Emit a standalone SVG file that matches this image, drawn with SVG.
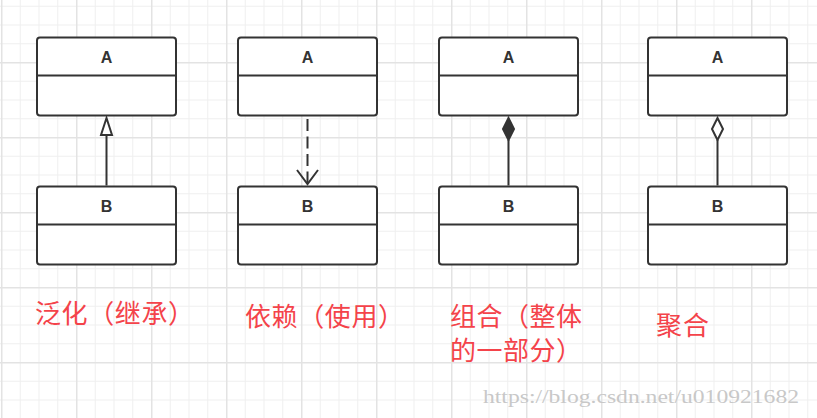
<svg xmlns="http://www.w3.org/2000/svg" width="817" height="418" viewBox="0 0 817 418">
  <defs>
    <pattern id="minor" patternUnits="userSpaceOnUse" x="1" y="5.75" width="18.75" height="18.75">
      <path d="M0.5 0 V18.75 M0 0.5 H18.75" stroke="#efefef" stroke-width="1" fill="none"/>
    </pattern>
    <pattern id="major" patternUnits="userSpaceOnUse" x="1" y="-13" width="75" height="75">
      <path d="M0.75 0 V75 M0 0.75 H75" stroke="#e3e3e3" stroke-width="1.5" fill="none"/>
    </pattern>
    <style>
      .box { fill: #ffffff; stroke: #333333; stroke-width: 2; }
      .div { stroke: #333333; stroke-width: 2; }
      .name { font-family: "Liberation Sans", Arial, sans-serif; font-weight: bold; font-size: 16px; fill: #333333; text-anchor: middle; }
      .conn { stroke: #333333; stroke-width: 2; fill: none; }
      .label { font-family: "Noto Sans CJK SC", sans-serif; font-size: 26px; fill: #f4434a; }
      .wm { font-family: "Liberation Serif", serif; font-size: 18px; fill: #c8c8c8; }
    </style>
  </defs>

  <rect width="817" height="418" fill="#ffffff"/>
  <rect width="817" height="418" fill="url(#minor)"/>
  <rect width="817" height="418" fill="url(#major)"/>

  <!-- Nodes -->
  <g id="gen-A">
    <rect class="box" x="37" y="37.5" width="139" height="78" rx="3"/>
    <line class="div" x1="37" y1="75.5" x2="176" y2="75.5"/>
    <text class="name" x="106.5" y="62.5">A</text>
  </g>
  <g id="gen-B">
    <rect class="box" x="37" y="186.5" width="139" height="78" rx="3"/>
    <line class="div" x1="37" y1="224.5" x2="176" y2="224.5"/>
    <text class="name" x="106.5" y="211.5">B</text>
  </g>

  <g id="dep-A">
    <rect class="box" x="238" y="37.5" width="139" height="78" rx="3"/>
    <line class="div" x1="238" y1="75.5" x2="377" y2="75.5"/>
    <text class="name" x="307.5" y="62.5">A</text>
  </g>
  <g id="dep-B">
    <rect class="box" x="238" y="186.5" width="139" height="78" rx="3"/>
    <line class="div" x1="238" y1="224.5" x2="377" y2="224.5"/>
    <text class="name" x="307.5" y="211.5">B</text>
  </g>

  <g id="comp-A">
    <rect class="box" x="439" y="37.5" width="139" height="78" rx="3"/>
    <line class="div" x1="439" y1="75.5" x2="578" y2="75.5"/>
    <text class="name" x="508.5" y="62.5">A</text>
  </g>
  <g id="comp-B">
    <rect class="box" x="439" y="186.5" width="139" height="78" rx="3"/>
    <line class="div" x1="439" y1="224.5" x2="578" y2="224.5"/>
    <text class="name" x="508.5" y="211.5">B</text>
  </g>

  <g id="agg-A">
    <rect class="box" x="648" y="37.5" width="139" height="78" rx="3"/>
    <line class="div" x1="648" y1="75.5" x2="787" y2="75.5"/>
    <text class="name" x="717.5" y="62.5">A</text>
  </g>
  <g id="agg-B">
    <rect class="box" x="648" y="186.5" width="139" height="78" rx="3"/>
    <line class="div" x1="648" y1="224.5" x2="787" y2="224.5"/>
    <text class="name" x="717.5" y="211.5">B</text>
  </g>

  <!-- Connectors -->
  <g id="connectors">
    <line class="conn" x1="106.5" y1="185.5" x2="106.5" y2="135"/>
    <polygon class="conn" points="106.5,118 101,135 112,135" fill="#ffffff"/>

    <line class="conn" x1="307.5" y1="119" x2="307.5" y2="183" stroke-dasharray="12 5.5"/>
    <polyline class="conn" points="297,170 307.5,184 318,170"/>

    <line class="conn" x1="508.5" y1="185.5" x2="508.5" y2="140"/>
    <polygon class="conn" points="508.5,118 514,129 508.5,140 503,129" style="fill:#333333"/>

    <line class="conn" x1="717.5" y1="185.5" x2="717.5" y2="140"/>
    <polygon class="conn" points="717.5,118 723,129 717.5,140 712,129" style="fill:#ffffff"/>
  </g>

  <!-- Labels -->
  <text class="label" x="35" y="322.5" textLength="159" lengthAdjust="spacing">泛化（继承）</text>
  <text class="label" x="245" y="325.5" textLength="159" lengthAdjust="spacing">依赖（使用）</text>
  <text class="label" x="450" y="325.5" textLength="132" lengthAdjust="spacing">组合（整体</text>
  <text class="label" x="450" y="359.5" textLength="132" lengthAdjust="spacing">的一部分）</text>
  <text class="label" x="656" y="335" textLength="53" lengthAdjust="spacing">聚合</text>

  <text class="wm" x="483" y="403" textLength="316" lengthAdjust="spacingAndGlyphs">https://blog.csdn.net/u010921682</text>
</svg>
